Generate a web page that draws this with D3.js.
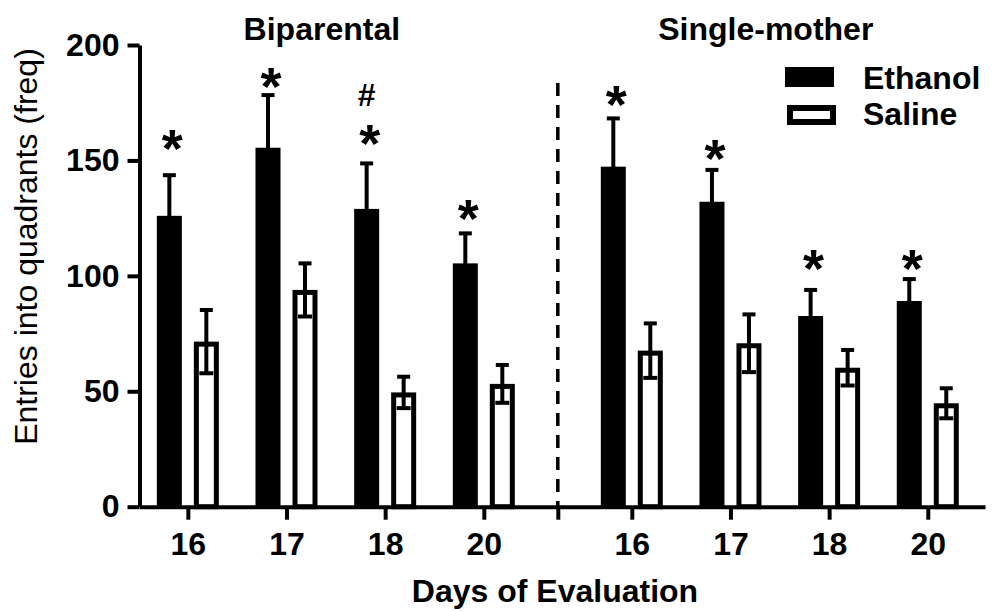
<!DOCTYPE html>
<html lang="en">
<head>
    <meta charset="UTF-8">
    <title>Entries into quadrants</title>
    <script src="https://d3js.org/d3.v7.min.js"></script>
    <style>
        body { margin: 0; background: #fff; }
        svg { display: block; font-family: "Liberation Sans", Arial, sans-serif; }
        .axis path, .axis line { stroke: #000; stroke-width: 4; }
        .axis text { font-size: 32px; font-weight: bold; fill: #000; }
    </style>
</head>
<body>
    <div id="chart"></div>

    <script>
        // data
        const groups = ["Biparental", "Single-mother"];
        const days = ["16", "17", "18", "20"];
        const series = ["Ethanol", "Saline"];
        const ethanolMean = [126, 155.5, 129, 105.4, 147.3, 132.1, 82.6, 89.1];
        const ethanolSem = [17.6, 22.8, 19.7, 13, 20.9, 13.8, 11.3, 9.5];
        const salineMean = [71.5, 93.9, 49.5, 53.2, 67.6, 70.8, 60.2, 44.8];
        const salineSem = [13.7, 11.5, 6.8, 8.2, 11.8, 12.5, 7.7, 6.5];
        const yTicks = [0, 50, 100, 150, 200];
        // significance marks over ethanol bars: bar index, level of "*" (y units), optional "#" level
        const marks = [
            { i: 0, v: 158 }, { i: 1, v: 184.8 },
            { i: 2, v: 160.3, hash: 178.5 },
            { i: 3, v: 127.8 }, { i: 4, v: 177 },
            { i: 5, v: 153.6 }, { i: 6, v: 106 },
            { i: 7, v: 106 }
        ];

        const width = 997, height = 611;
        const barW = 25, off = 18.5;

        const rows = [];
        groups.forEach((g, gi) => days.forEach((d, di) => {
            const k = gi * days.length + di;
            rows.push({
                group: g, day: d, slot: gi * 4.5 + di,
                eth: ethanolMean[k], ethErr: ethanolSem[k],
                sal: salineMean[k], salErr: salineSem[k]
            });
        }));
        const sepSlot = 3.75;

        const x = d3.scaleLinear().domain([-0.49, 8.08]).range([139.5, 985]);
        const y = d3.scaleLinear().domain([0, 200]).range([506.7, 45]);

        const svg = d3.select("#chart").append("svg")
            .attr("width", width)
            .attr("height", height);

        svg.append("rect").attr("width", width).attr("height", height).attr("fill", "#fff");

        // separator
        svg.append("line")
            .attr("x1", x(sepSlot)).attr("x2", x(sepSlot))
            .attr("y1", 83).attr("y2", y(0))
            .attr("stroke", "#000")
            .attr("stroke-width", 3.5)
            .attr("stroke-dasharray", "13,9");

        // ethanol bars
        svg.selectAll(".eth").data(rows).enter().append("rect")
            .attr("x", d => x(d.slot) - off - barW / 2)
            .attr("y", d => y(d.eth))
            .attr("width", barW)
            .attr("height", d => y(0) - y(d.eth))
            .attr("fill", "#000");

        // saline bars (outlined)
        svg.selectAll(".sal").data(rows).enter().append("rect")
            .attr("x", d => x(d.slot) + off - barW / 2 + 2.5)
            .attr("y", d => y(d.sal) + 2.5)
            .attr("width", barW - 5)
            .attr("height", d => y(0) - y(d.sal) - 2.5)
            .attr("fill", "#fff")
            .attr("stroke", "#000")
            .attr("stroke-width", 5);

        // error bars
        const errs = [];
        rows.forEach(d => {
            errs.push({ cx: x(d.slot) - off, m: d.eth, e: d.ethErr });
            errs.push({ cx: x(d.slot) + off, m: d.sal, e: d.salErr });
        });
        const eb = svg.selectAll(".err").data(errs).enter().append("g")
            .attr("stroke", "#000").attr("stroke-width", 4);
        eb.append("line")
            .attr("x1", d => d.cx).attr("x2", d => d.cx)
            .attr("y1", d => y(d.m + d.e)).attr("y2", d => y(d.m - d.e));
        eb.append("line")
            .attr("x1", d => d.cx - 6.5).attr("x2", d => d.cx + 6.5)
            .attr("y1", d => y(d.m + d.e)).attr("y2", d => y(d.m + d.e));
        eb.append("line")
            .attr("x1", d => d.cx - 7).attr("x2", d => d.cx + 7)
            .attr("y1", d => y(d.m - d.e)).attr("y2", d => y(d.m - d.e));

        // significance marks
        const mk = svg.selectAll(".mark").data(marks).enter().append("text")
            .attr("text-anchor", "middle")
            .attr("font-weight", "bold");
        mk.filter(d => d.hash != null).append("tspan")
            .attr("x", d => x(rows[d.i].slot) - off)
            .attr("y", d => y(d.hash) + 11)
            .attr("font-size", 32)
            .text("#");
        mk.append("tspan")
            .attr("x", d => x(rows[d.i].slot) - off + 3)
            .attr("y", d => y(d.v) + 25)
            .attr("font-size", 54)
            .text("*");

        // axes
        svg.append("g")
            .attr("class", "axis")
            .attr("transform", `translate(${x.range()[0]},0)`)
            .call(d3.axisLeft(y).tickValues(yTicks).tickSize(12).tickSizeOuter(0).tickPadding(8));

        const xTicks = rows.map(d => d.slot).concat([sepSlot]);
        svg.append("g")
            .attr("class", "axis")
            .attr("transform", `translate(0,${y(0)})`)
            .call(d3.axisBottom(x).tickValues(xTicks).tickSize(13).tickSizeOuter(0).tickPadding(13)
                .tickFormat(v => { const r = rows.find(d => d.slot === v); return r ? r.day : ""; }));

        // group titles
        groups.forEach((g, gi) => {
            svg.append("text")
                .attr("x", x(gi * 4.5 + 1.5) - 14)
                .attr("y", 40)
                .attr("text-anchor", "middle")
                .attr("font-size", 32)
                .attr("font-weight", "bold")
                .text(g);
        });

        // axis titles
        svg.append("text")
            .attr("x", 555)
            .attr("y", 602)
            .attr("text-anchor", "middle")
            .attr("font-size", 32)
            .attr("font-weight", "bold")
            .text("Days of Evaluation");

        svg.append("text")
            .attr("transform", "translate(37,246.5) rotate(-90)")
            .attr("text-anchor", "middle")
            .attr("font-size", 32)
            .text("Entries into quadrants (freq)");

        // legend
        const legend = svg.append("g");
        legend.append("rect")
            .attr("x", 785).attr("y", 67).attr("width", 49).attr("height", 20)
            .attr("fill", "#000");
        legend.append("rect")
            .attr("x", 790).attr("y", 108).attr("width", 43).attr("height", 14)
            .attr("fill", "#fff").attr("stroke", "#000").attr("stroke-width", 6);
        series.forEach((s, i) => {
            legend.append("text")
                .attr("x", 863)
                .attr("y", 89 + i * 36)
                .attr("font-size", 32)
                .attr("font-weight", "bold")
                .text(s);
        });
    </script>
</body>
</html>
